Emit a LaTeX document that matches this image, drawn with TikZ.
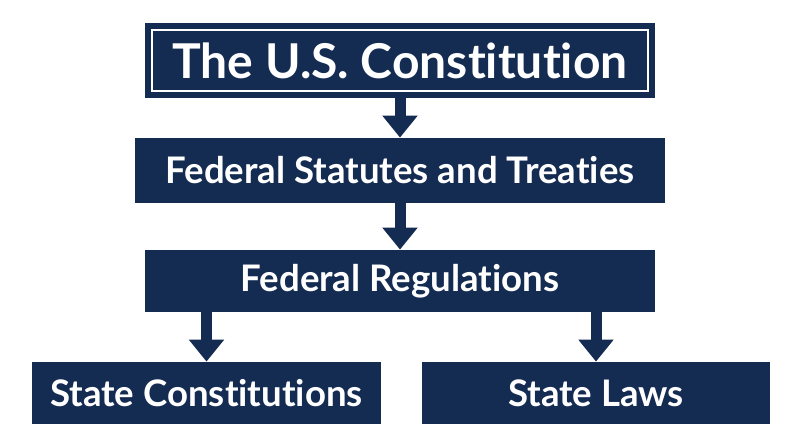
\documentclass[tikz,border=0pt]{standalone}
\usepackage{fontspec}
\setmainfont{Lato}[Ligatures={NoCommon}]
\usetikzlibrary{arrows.meta,positioning}
\definecolor{navy}{RGB}{20,43,82}

\begin{document}
\begin{tikzpicture}[x=0.5pt,y=-0.5pt,
    box/.style={rectangle,fill=navy,text=white,inner sep=0pt,font=\bfseries\fontsize{18.3}{22}\selectfont},
    link/.style={draw=navy,line width=5.5pt,-{Triangle[length=11pt,width=17pt]}},
]
    \useasboundingbox (0,0) rectangle (800,447);

    % Levels of law
    \node[box,minimum width=255pt,minimum height=37.5pt,font=\bfseries\fontsize{24}{28}\selectfont] (usc) at (400,60.5) {The U.S. Constitution};
    \draw[white,line width=1pt] ([shift={(3.5pt,-3.5pt)}]usc.north west) rectangle ([shift={(-3.5pt,3.5pt)}]usc.south east);
    \node[box,minimum width=265pt,minimum height=32.5pt] (statutes) at (400,170.5) {Federal Statutes and Treaties};
    \node[box,minimum width=255pt,minimum height=31pt] (regs) at (400,281) {Federal Regulations};
    \node[box,minimum width=174.5pt,minimum height=31pt] (statecon) at (206.5,393) {State Constitutions};
    \node[box,minimum width=174pt,minimum height=31pt] (statelaws) at (596,393) {State Laws};

    % Arrows
    \draw[link] (usc.south) -- (statutes.north);
    \draw[link] (statutes.south) -- (regs.north);
    \draw[link] (regs.south -| statecon.north) -- (statecon.north);
    \draw[link] (regs.south -| statelaws.north) -- (statelaws.north);
\end{tikzpicture}
\end{document}
